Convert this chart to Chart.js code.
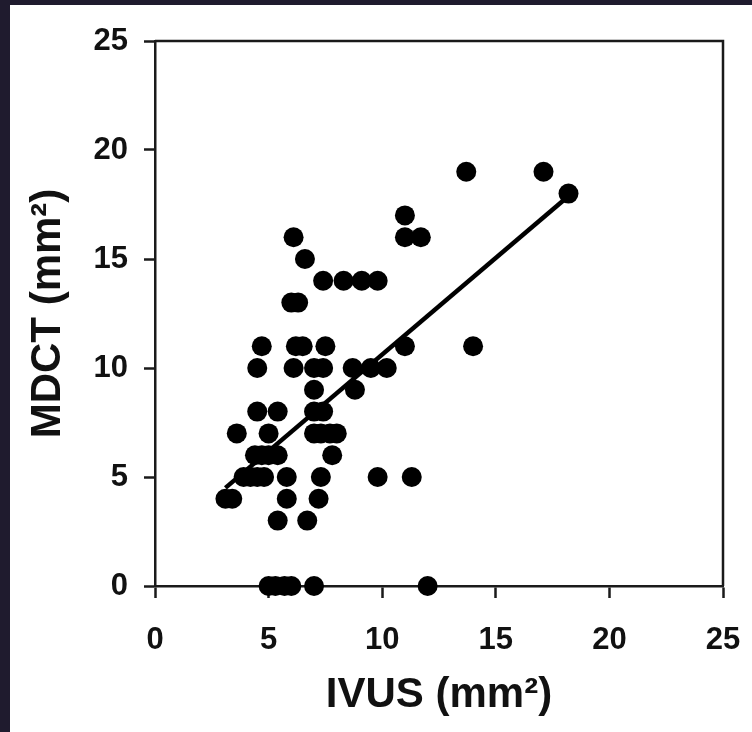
<!DOCTYPE html>
<html>
<head>
<meta charset="utf-8">
<script src="https://cdn.jsdelivr.net/npm/chart.js@4/dist/chart.umd.min.js"></script>
<style>
  html, body { margin: 0; padding: 0; background: #1f1b2e; width: 752px; height: 732px; overflow: hidden; }
  #wrap { position: absolute; left: 10px; top: 5px; width: 742px; height: 727px; background: #ffffff; }
  canvas { display: block; }
</style>
</head>
<body>
<div id="wrap"><canvas id="c" width="742" height="727"></canvas></div>
<script>
// IVUS area (mm²) vs MDCT area (mm²)
const ivus = [3.1, 3.4, 5.8, 7.2,
  3.9, 4.2, 4.5, 4.8, 5.8, 7.3, 9.8, 11.3,
  4.4, 4.7, 5.0, 5.4, 7.8,
  3.6, 5.0, 7.0, 7.3, 7.7, 8.0,
  4.5, 5.4, 7.0, 7.4,
  7.0, 8.8,
  4.5, 6.1, 7.0, 7.4, 8.7, 9.5, 10.2,
  4.7, 6.2, 6.5, 7.5, 11.0, 14.0,
  6.0, 6.3,
  7.4, 8.3, 9.1, 9.8,
  6.6,
  6.1, 11.0, 11.7,
  11.0,
  18.2,
  13.7, 17.1,
  5.4, 6.7,
  5.0, 5.3, 5.7, 6.0, 7.0, 12.0];
const mdct = [4, 4, 4, 4,
  5, 5, 5, 5, 5, 5, 5, 5,
  6, 6, 6, 6, 6,
  7, 7, 7, 7, 7, 7,
  8, 8, 8, 8,
  9, 9,
  10, 10, 10, 10, 10, 10, 10,
  11, 11, 11, 11, 11, 11,
  13, 13,
  14, 14, 14, 14,
  15,
  16, 16, 16,
  17,
  18,
  19, 19,
  3, 3,
  0, 0, 0, 0, 0, 0];
// regression line end points
const fitX = [3.1, 18.1];
const fitY = [4.5, 17.8];
const tickValues = [0, 5, 10, 15, 20, 25];

const points = ivus.map((v, i) => ({ x: v, y: mdct[i] }));
const fitLine = fitX.map((v, i) => ({ x: v, y: fitY[i] }));

const boxPlugin = {
  id: 'box',
  afterDatasetsDraw(chart) {
    const { ctx, chartArea: a } = chart;
    ctx.save();
    ctx.strokeStyle = '#1a1a1a';
    ctx.lineWidth = 2.5;
    ctx.beginPath();
    ctx.moveTo(a.left, a.top);
    ctx.lineTo(a.right, a.top);
    ctx.lineTo(a.right, a.bottom);
    ctx.stroke();
    ctx.restore();
  }
};

const tickFont = { family: 'Liberation Sans, Arial, sans-serif', size: 31, weight: 'bold' };
const titleFont = { family: 'Liberation Sans, Arial, sans-serif', size: 42, weight: 'bold' };

new Chart(document.getElementById('c'), {
  type: 'scatter',
  data: {
    datasets: [
      {
        data: points,
        backgroundColor: '#000',
        borderWidth: 0,
        pointRadius: 10,
        pointHoverRadius: 10,
        clip: false
      },
      {
        type: 'line',
        data: fitLine,
        borderColor: '#000',
        borderWidth: 4.5,
        pointRadius: 0,
        fill: false,
        clip: false
      }
    ]
  },
  options: {
    responsive: false,
    animation: false,
    events: [],
    layout: { padding: { left: 0, top: 36, right: 29, bottom: 0 } },
    plugins: { legend: { display: false }, tooltip: { enabled: false } },
    scales: {
      x: {
        type: 'linear', min: 0, max: 25,
        afterBuildTicks: s => { s.ticks = tickValues.map(v => ({ value: v })); },
        afterFit: s => { s.height = 146; s.paddingLeft = 0; s.paddingRight = 0; },
        grid: { drawOnChartArea: false, tickLength: 12, tickColor: '#1a1a1a', tickWidth: 2.5 },
        border: { color: '#1a1a1a', width: 2.5 },
        ticks: { color: '#111', font: tickFont, padding: 24, maxRotation: 0 },
        title: { display: true, text: 'IVUS (mm²)', color: '#111', font: titleFont, padding: { top: 0, bottom: 11 } }
      },
      y: {
        type: 'linear', min: 0, max: 25,
        afterBuildTicks: s => { s.ticks = tickValues.map(v => ({ value: v })); },
        afterFit: s => { s.width = 145; s.paddingTop = 0; s.paddingBottom = 0; },
        grid: { drawOnChartArea: false, tickLength: 11, tickColor: '#1a1a1a', tickWidth: 2.5 },
        border: { color: '#1a1a1a', width: 2.5 },
        ticks: { color: '#111', font: tickFont, padding: 16 },
        title: { display: true, text: 'MDCT (mm²)', color: '#111', font: titleFont, padding: { top: 13, bottom: 0 } }
      }
    }
  },
  plugins: [boxPlugin]
});
</script>
</body>
</html>
